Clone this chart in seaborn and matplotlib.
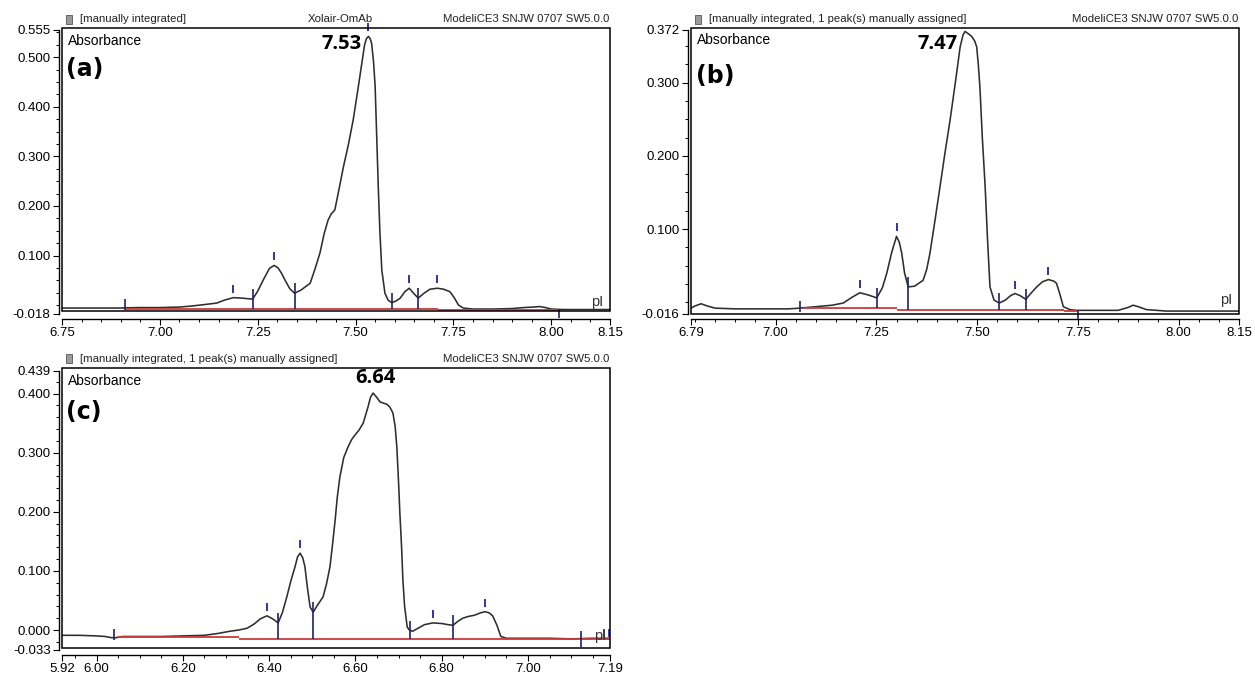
import numpy as np
import pandas as pd
import matplotlib
matplotlib.use("Agg")
import matplotlib.pyplot as plt
from matplotlib.patches import Rectangle
from matplotlib.ticker import FixedLocator, MultipleLocator, FormatStrFormatter
import seaborn as sns

# ---------------- data: panel (a) ----------------
a_pI = [6.75, 6.80, 6.85, 6.89, 6.95, 7.00, 7.05, 7.08, 7.103, 7.145, 7.165, 7.188, 7.21, 7.237,
        7.25, 7.265, 7.28, 7.292, 7.302, 7.311, 7.32, 7.332, 7.344, 7.36, 7.372, 7.384, 7.396,
        7.409, 7.42, 7.430, 7.438, 7.447, 7.458, 7.469, 7.482, 7.494, 7.505, 7.516, 7.523, 7.528,
        7.533, 7.537, 7.541, 7.546, 7.550, 7.554, 7.558, 7.562, 7.567, 7.575, 7.583, 7.592, 7.603,
        7.614, 7.626, 7.637, 7.648, 7.660, 7.675, 7.690, 7.709, 7.725, 7.741, 7.752, 7.763, 7.775,
        7.80, 7.85, 7.90, 7.93, 7.955, 7.97, 7.985, 8.00, 8.03, 8.08, 8.15]
a_abs = [-0.006, -0.006, -0.006, -0.006, -0.005, -0.005, -0.004, -0.002, 0.000, 0.004, 0.010, 0.015,
         0.014, 0.012, 0.028, 0.052, 0.074, 0.080, 0.075, 0.064, 0.050, 0.033, 0.024, 0.030, 0.037,
         0.044, 0.072, 0.105, 0.145, 0.172, 0.184, 0.192, 0.235, 0.279, 0.325, 0.374, 0.430, 0.488,
         0.525, 0.538, 0.542, 0.538, 0.528, 0.490, 0.441, 0.340, 0.239, 0.150, 0.071, 0.024, 0.010,
         0.005, 0.008, 0.014, 0.027, 0.034, 0.024, 0.014, 0.024, 0.032, 0.034, 0.032, 0.027, 0.015,
         0.000, -0.006, -0.008, -0.008, -0.007, -0.005, -0.004, -0.003, -0.005, -0.008, -0.009,
         -0.009, -0.009]
a_apex = [7.188, 7.292, 7.533, 7.637, 7.709]
a_valley = [7.237, 7.344, 7.592, 7.660]
a_start = [6.91]
a_end = [8.02]
a_base_x0 = [6.91, 7.71]
a_base_x1 = [7.71, 8.02]
a_base_y = [-0.007, -0.009]
a_xticks = [6.75, 7.00, 7.25, 7.50, 7.75, 8.00, 8.15]
a_yticks = [-0.018, 0.100, 0.200, 0.300, 0.400, 0.500, 0.555]
a_peak = "7.53"
a_header = ["[manually integrated]", "Xolair-OmAb", "ModeliCE3 SNJW 0707 SW5.0.0"]

# ---------------- data: panel (b) ----------------
b_pI = [6.79, 6.80, 6.815, 6.83, 6.85, 6.90, 6.95, 7.00, 7.03, 7.06, 7.10, 7.14, 7.168, 7.19,
        7.209, 7.23, 7.251, 7.265, 7.276, 7.288, 7.300, 7.307, 7.313, 7.32, 7.329, 7.345, 7.366,
        7.375, 7.383, 7.395, 7.408, 7.42, 7.433, 7.446, 7.458, 7.465, 7.470, 7.478, 7.487, 7.494,
        7.499, 7.503, 7.507, 7.513, 7.520, 7.526, 7.532, 7.542, 7.555, 7.57, 7.583, 7.594, 7.607,
        7.621, 7.633, 7.648, 7.662, 7.677, 7.69, 7.697, 7.705, 7.714, 7.73, 7.747, 7.80, 7.85,
        7.875, 7.887, 7.90, 7.92, 7.97, 8.05, 8.15]
b_abs = [-0.008, -0.005, -0.002, -0.005, -0.008, -0.009, -0.009, -0.009, -0.009, -0.008, -0.006,
         -0.004, -0.001, 0.007, 0.013, 0.010, 0.006, 0.020, 0.040, 0.068, 0.090, 0.082, 0.067, 0.040,
         0.021, 0.022, 0.030, 0.045, 0.067, 0.110, 0.158, 0.203, 0.249, 0.300, 0.349, 0.365, 0.370,
         0.367, 0.363, 0.357, 0.349, 0.325, 0.294, 0.225, 0.158, 0.085, 0.021, 0.003, -0.001, 0.003,
         0.009, 0.012, 0.009, 0.004, 0.012, 0.021, 0.028, 0.031, 0.029, 0.026, 0.012, -0.006, -0.010,
         -0.011, -0.011, -0.011, -0.007, -0.004, -0.006, -0.010, -0.012, -0.012, -0.012]
b_apex = [7.209, 7.300, 7.594, 7.677]
b_valley = [7.251, 7.329, 7.555, 7.621]
b_start = [7.06]
b_end = [7.75]
b_base_x0 = [7.07, 7.30, 7.716]
b_base_x1 = [7.30, 7.716, 7.75]
b_base_y = [-0.008, -0.010, -0.012]
b_xticks = [6.79, 7.00, 7.25, 7.50, 7.75, 8.00, 8.15]
b_yticks = [-0.016, 0.100, 0.200, 0.300, 0.372]
b_peak = "7.47"
b_header = ["[manually integrated, 1 peak(s) manually assigned]", "", "ModeliCE3 SNJW 0707 SW5.0.0"]

# ---------------- data: panel (c) ----------------
c_pI = [5.92, 5.96, 6.00, 6.02, 6.035, 6.045, 6.06, 6.10, 6.15, 6.20, 6.25, 6.28, 6.31, 6.33,
        6.349, 6.365, 6.38, 6.395, 6.408, 6.421, 6.431, 6.441, 6.45, 6.460, 6.466, 6.472, 6.478,
        6.483, 6.489, 6.495, 6.502, 6.513, 6.525, 6.533, 6.541, 6.547, 6.553, 6.558, 6.564, 6.573,
        6.583, 6.591, 6.599, 6.608, 6.618, 6.629, 6.635, 6.641, 6.648, 6.657, 6.665, 6.673, 6.68,
        6.687, 6.692, 6.696, 6.70, 6.703, 6.707, 6.710, 6.714, 6.720, 6.726, 6.733, 6.745, 6.76,
        6.779, 6.80, 6.815, 6.826, 6.838, 6.849, 6.862, 6.876, 6.89, 6.900, 6.91, 6.918, 6.928,
        6.937, 6.95, 7.00, 7.05, 7.10, 7.15, 7.19]
c_abs = [-0.009, -0.009, -0.010, -0.011, -0.013, -0.013, -0.011, -0.011, -0.011, -0.010, -0.009,
         -0.006, -0.002, 0.000, 0.003, 0.010, 0.019, 0.024, 0.019, 0.012, 0.030, 0.056, 0.082, 0.107,
         0.124, 0.130, 0.122, 0.107, 0.070, 0.039, 0.030, 0.043, 0.056, 0.078, 0.107, 0.145, 0.186,
         0.225, 0.259, 0.292, 0.310, 0.322, 0.330, 0.338, 0.350, 0.377, 0.394, 0.401, 0.395, 0.386,
         0.384, 0.382, 0.377, 0.367, 0.345, 0.310, 0.250, 0.198, 0.140, 0.085, 0.040, 0.005, -0.001,
         -0.002, 0.003, 0.009, 0.012, 0.011, 0.009, 0.008, 0.015, 0.020, 0.023, 0.025, 0.029, 0.031,
         0.029, 0.024, 0.008, -0.011, -0.014, -0.014, -0.014, -0.015, -0.014, -0.014]
c_apex = [6.395, 6.472, 6.779, 6.900]
c_valley = [6.421, 6.502, 6.726, 6.826]
c_start = [6.041]
c_end = [7.122]
c_extra = [7.176, 7.188]
c_base_x0 = [6.05, 6.33]
c_base_x1 = [6.33, 7.19]
c_base_y = [-0.012, -0.0145]
c_xticks = [5.92, 6.00, 6.20, 6.40, 6.60, 6.80, 7.00, 7.19]
c_yticks = [-0.033, 0.000, 0.100, 0.200, 0.300, 0.400, 0.439]
c_peak = "6.64"
c_header = ["[manually integrated, 1 peak(s) manually assigned]", "", "ModeliCE3 SNJW 0707 SW5.0.0"]

# ---------------- style ----------------
sns.set_style("ticks")
plt.rcParams['font.family'] = ['Liberation Sans', 'DejaVu Sans']
plt.rcParams['text.color'] = 'black'
plt.rcParams['axes.edgecolor'] = 'black'
plt.rcParams['xtick.color'] = 'black'
plt.rcParams['ytick.color'] = 'black'
plt.rcParams['axes.linewidth'] = 1.0

W, H = 1255, 674
fig = plt.figure(figsize=(W / 100, H / 100), dpi=100)

CURVE = '#2e2e2e'
RED = '#cc3a3a'
NAVY = '#23239a'
DNAVY = '#1c2466'


def fx(px):
    return px / W


def fy(py):
    return 1 - py / H


def base_at(x, bx0, bx1, by):
    for x0, x1, y in zip(bx0, bx1, by):
        if x0 - 1e-9 <= x <= x1 + 1e-9:
            return y
    return by[-1]


def panel(area, box, pI, ab, apex, valley, starts, ends, bx0, bx1, by,
          xticks, yticks, yminor, header, hdr_y, letter, letter_xy,
          absorb_xy, peak, peak_xy, peak_ha, pi_xy, extra=None):
    x0, y0, x1, y1 = area
    ax = fig.add_axes([fx(x0), fy(y1), (x1 - x0) / W, (y1 - y0) / H])
    df = pd.DataFrame({"pI": pI, "Absorbance": ab})
    sns.lineplot(data=df, x="pI", y="Absorbance", ax=ax, color=CURVE,
                 linewidth=1.15, sort=False, estimator=None, legend=False)
    ax.set_xlabel("")
    ax.set_ylabel("")
    ax.set_xlim(xticks[0], xticks[-1])
    ax.set_ylim(yticks[0], yticks[-1])
    dpp = (yticks[-1] - yticks[0]) / (y1 - y0)  # data units per pixel

    # baselines
    ax.hlines(by, bx0, bx1, colors=RED, linewidth=1.3, zorder=3)
    # apex markers
    for x in apex:
        yc = np.interp(x, pI, ab)
        ax.vlines(x, yc + 5 * dpp, yc + 13 * dpp, colors=NAVY, linewidth=1.3,
                  zorder=4, clip_on=False)
    # valley markers
    for x in valley:
        yc = np.interp(x, pI, ab)
        ax.vlines(x, base_at(x, bx0, bx1, by), yc + 10 * dpp, colors=DNAVY,
                  linewidth=1.2, zorder=4)
    for x in starts:
        yb = base_at(x, bx0, bx1, by)
        ax.vlines(x, yb - 1 * dpp, yb + 10 * dpp, colors=DNAVY, linewidth=1.2, zorder=4)
    for x in ends:
        yb = base_at(x, bx0, bx1, by)
        up = 8 if extra else 1
        ax.vlines(x, yb - 8 * dpp, yb + up * dpp, colors=DNAVY, linewidth=1.2,
                  zorder=4, clip_on=False)
    if extra:
        for x in extra:
            yb = base_at(x, bx0, bx1, by)
            ax.vlines(x, yb + 2 * dpp, yb + 10 * dpp, colors=NAVY, linewidth=1.2, zorder=4)

    # axes / ticks
    for s in ("top", "right"):
        ax.spines[s].set_visible(False)
    ax.spines["left"].set_position(("outward", 2.2))
    ax.spines["bottom"].set_position(("outward", 3.6))
    ax.xaxis.set_major_locator(FixedLocator(xticks))
    ax.yaxis.set_major_locator(FixedLocator(yticks))
    ax.xaxis.set_minor_locator(MultipleLocator(0.05))
    ax.yaxis.set_minor_locator(MultipleLocator(yminor))
    ax.xaxis.set_major_formatter(FormatStrFormatter("%.2f"))
    ax.yaxis.set_major_formatter(FormatStrFormatter("%.3f"))
    ax.tick_params(which="major", direction="out", length=4, width=0.8,
                   labelsize=9.5, pad=2)
    ax.tick_params(which="minor", direction="out", length=2.5, width=0.7)
    ax.patch.set_alpha(0)

    # inner frame
    bl, bt, br, bb = box
    fig.add_artist(Rectangle((fx(bl), fy(bb)), (br - bl) / W, (bb - bt) / H,
                             transform=fig.transFigure, fill=False,
                             edgecolor='black', linewidth=1.1))
    # header icon + texts
    fig.add_artist(Rectangle((fx(bl + 4), fy(hdr_y + 4)), 6 / W, 9 / H,
                             transform=fig.transFigure, facecolor='#9a9a9a',
                             edgecolor='#555555', linewidth=0.6))
    fig.text(fx(bl + 18), fy(hdr_y), header[0], fontsize=8.2, va='center',
             ha='left', color='#222222')
    if header[1]:
        fig.text(fx(bl + 246), fy(hdr_y), header[1], fontsize=8.2, va='center',
                 ha='left', color='#222222')
    fig.text(fx(br - 1), fy(hdr_y), header[2], fontsize=8.2, va='center',
             ha='right', color='#222222')

    fig.text(fx(absorb_xy[0]), fy(absorb_xy[1]), "Absorbance", fontsize=10,
             va='center', ha='left')
    fig.text(fx(letter_xy[0]), fy(letter_xy[1]), letter, fontsize=17,
             fontweight='bold', family=['DejaVu Sans'], va='center', ha='left')
    fig.text(fx(peak_xy[0]), fy(peak_xy[1]), peak, fontsize=14.5,
             fontweight='bold', family=['Open Sans', 'DejaVu Sans'],
             va='center', ha=peak_ha)
    fig.text(fx(pi_xy[0]), fy(pi_xy[1]), "pI", fontsize=10.5, va='center',
             ha='center', color='#333333')
    return ax


panel((62, 30, 610, 314), (62, 28, 610, 311), a_pI, a_abs, a_apex, a_valley,
      a_start, a_end, a_base_x0, a_base_x1, a_base_y, a_xticks, a_yticks, 0.025,
      a_header, 19.5, "(a)", (66, 69), (68, 41), a_peak, (362, 44), 'right',
      (597, 302))

panel((691, 30, 1239, 314), (691, 28, 1239, 314), b_pI, b_abs, b_apex, b_valley,
      b_start, b_end, b_base_x0, b_base_x1, b_base_y, b_xticks, b_yticks, 0.025,
      b_header, 19.5, "(b)", (696, 76), (697, 40), b_peak, (958, 44), 'right',
      (1226, 300))

panel((62, 370.6, 610, 649.5), (62, 368, 610, 648), c_pI, c_abs, c_apex, c_valley,
      c_start, c_end, c_base_x0, c_base_x1, c_base_y, c_xticks, c_yticks, 0.02,
      c_header, 359, "(c)", (66, 412), (68, 381), c_peak, (375, 378), 'center',
      (600, 636), extra=c_extra)

fig.savefig("out.png", dpi=100)
